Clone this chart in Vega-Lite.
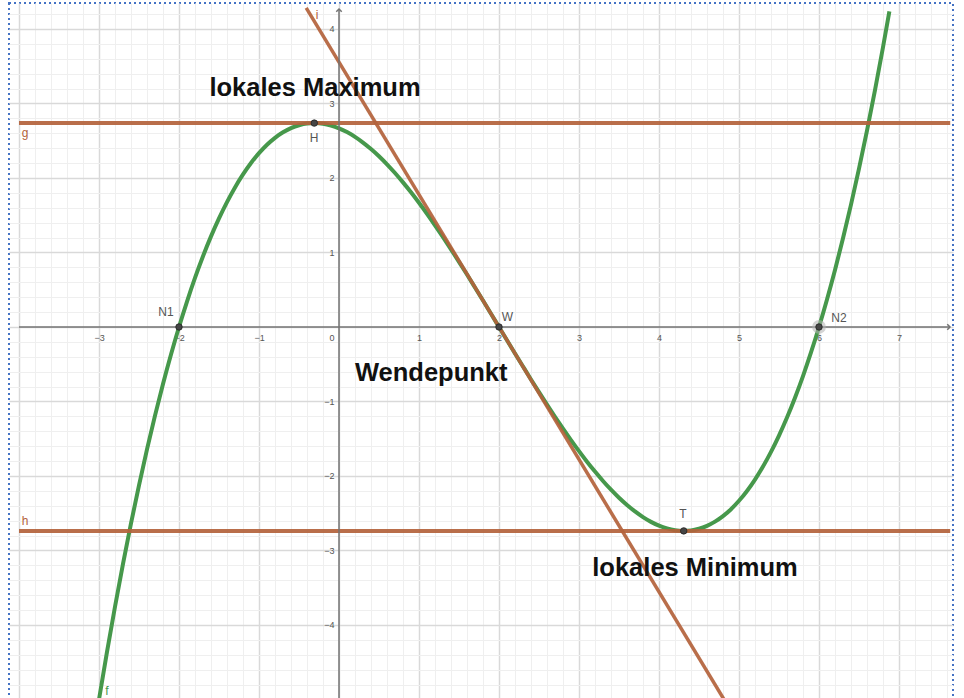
{
  "$schema": "https://vega.github.io/schema/vega-lite/v6.json",
  "width": 944,
  "height": 697,
  "autosize": {"type": "none"},
  "padding": {"left": 9, "top": 3, "right": 11, "bottom": 0},
  "background": "white",
  "view": {"stroke": "#4472c4", "strokeDash": [2, 3], "strokeWidth": 2},
  "config": {"font": "Liberation Sans"},
  "datasets": {
    "curve": [
      {"x": -3.0, "y": -5.0}, {"x": -2.9, "y": -4.361}, {"x": -2.8, "y": -3.755}, {"x": -2.7, "y": -3.180},
      {"x": -2.6, "y": -2.637}, {"x": -2.5, "y": -2.125}, {"x": -2.4, "y": -1.643}, {"x": -2.3, "y": -1.190},
      {"x": -2.2, "y": -0.765}, {"x": -2.1, "y": -0.369}, {"x": -2.0, "y": 0.0}, {"x": -1.9, "y": 0.342},
      {"x": -1.8, "y": 0.659}, {"x": -1.7, "y": 0.950}, {"x": -1.6, "y": 1.216}, {"x": -1.5, "y": 1.458},
      {"x": -1.4, "y": 1.677}, {"x": -1.3, "y": 1.874}, {"x": -1.2, "y": 2.048}, {"x": -1.1, "y": 2.201},
      {"x": -1.0, "y": 2.333}, {"x": -0.9, "y": 2.446}, {"x": -0.8, "y": 2.539}, {"x": -0.7, "y": 2.613},
      {"x": -0.6, "y": 2.669}, {"x": -0.5, "y": 2.708}, {"x": -0.4, "y": 2.731}, {"x": -0.3, "y": 2.737},
      {"x": -0.2, "y": 2.728}, {"x": -0.1, "y": 2.704}, {"x": 0.0, "y": 2.667}, {"x": 0.1, "y": 2.616},
      {"x": 0.2, "y": 2.552}, {"x": 0.3, "y": 2.476}, {"x": 0.4, "y": 2.389}, {"x": 0.5, "y": 2.292},
      {"x": 0.6, "y": 2.184}, {"x": 0.7, "y": 2.067}, {"x": 0.8, "y": 1.941}, {"x": 0.9, "y": 1.808},
      {"x": 1.0, "y": 1.667}, {"x": 1.1, "y": 1.519}, {"x": 1.2, "y": 1.365}, {"x": 1.3, "y": 1.206},
      {"x": 1.4, "y": 1.043}, {"x": 1.5, "y": 0.875}, {"x": 1.6, "y": 0.704}, {"x": 1.7, "y": 0.530},
      {"x": 1.8, "y": 0.355}, {"x": 1.9, "y": 0.178}, {"x": 2.0, "y": 0.0}, {"x": 2.1, "y": -0.178},
      {"x": 2.2, "y": -0.355}, {"x": 2.3, "y": -0.530}, {"x": 2.4, "y": -0.704}, {"x": 2.5, "y": -0.875},
      {"x": 2.6, "y": -1.043}, {"x": 2.7, "y": -1.206}, {"x": 2.8, "y": -1.365}, {"x": 2.9, "y": -1.519},
      {"x": 3.0, "y": -1.667}, {"x": 3.1, "y": -1.808}, {"x": 3.2, "y": -1.941}, {"x": 3.3, "y": -2.067},
      {"x": 3.4, "y": -2.184}, {"x": 3.5, "y": -2.292}, {"x": 3.6, "y": -2.389}, {"x": 3.7, "y": -2.476},
      {"x": 3.8, "y": -2.552}, {"x": 3.9, "y": -2.616}, {"x": 4.0, "y": -2.667}, {"x": 4.1, "y": -2.704},
      {"x": 4.2, "y": -2.728}, {"x": 4.3, "y": -2.737}, {"x": 4.4, "y": -2.731}, {"x": 4.5, "y": -2.708},
      {"x": 4.6, "y": -2.669}, {"x": 4.7, "y": -2.613}, {"x": 4.8, "y": -2.539}, {"x": 4.9, "y": -2.446},
      {"x": 5.0, "y": -2.333}, {"x": 5.1, "y": -2.201}, {"x": 5.2, "y": -2.048}, {"x": 5.3, "y": -1.874},
      {"x": 5.4, "y": -1.677}, {"x": 5.5, "y": -1.458}, {"x": 5.6, "y": -1.216}, {"x": 5.7, "y": -0.950},
      {"x": 5.8, "y": -0.659}, {"x": 5.9, "y": -0.342}, {"x": 6.0, "y": 0.0}, {"x": 6.1, "y": 0.369},
      {"x": 6.2, "y": 0.765}, {"x": 6.3, "y": 1.190}, {"x": 6.4, "y": 1.643}, {"x": 6.5, "y": 2.125},
      {"x": 6.6, "y": 2.637}, {"x": 6.7, "y": 3.180}, {"x": 6.8, "y": 3.755}, {"x": 6.88, "y": 4.237}
    ],
    "hlines": [
      {"name": "g", "x": -4, "x2": 7.64, "y": 2.737},
      {"name": "h", "x": -4, "x2": 7.64, "y": -2.737}
    ],
    "tangent": [
      {"x": -0.41, "y": 4.284},
      {"x": 4.82, "y": -5.013}
    ],
    "axislines": [
      {"x": -4, "x2": 7.6375, "y": 0, "y2": 0},
      {"x": 0, "x2": 0, "y": -5.1, "y2": 4.268}
    ],
    "arrows": [
      {"x": 7.6375, "y": 0, "dir": "right"},
      {"x": 0, "y": 4.268, "dir": "up"}
    ],
    "selected": [
      {"name": "N2", "x": 6, "y": 0}
    ],
    "points": [
      {"name": "H", "x": -0.309, "y": 2.737},
      {"name": "N1", "x": -2, "y": 0},
      {"name": "W", "x": 2, "y": 0},
      {"name": "N2", "x": 6, "y": 0},
      {"name": "T", "x": 4.309, "y": -2.737}
    ],
    "labels": [
      {"text": "H", "kind": "point", "x": -0.3125, "y": 2.537},
      {"text": "N1", "kind": "point", "x": -2.1625, "y": 0.201},
      {"text": "W", "kind": "point", "x": 2.106, "y": 0.134},
      {"text": "N2", "kind": "point", "x": 6.25, "y": 0.121},
      {"text": "T", "kind": "point", "x": 4.3, "y": -2.51},
      {"text": "g", "kind": "line", "x": -3.925, "y": 2.604},
      {"text": "h", "kind": "line", "x": -3.925, "y": -2.604},
      {"text": "i", "kind": "line", "x": -0.275, "y": 4.188},
      {"text": "f", "kind": "curve", "x": -2.9, "y": -4.886}
    ],
    "notes": [
      {"text": "lokales Maximum", "x": -1.62, "y": 3.1},
      {"text": "Wendepunkt", "x": 0.2, "y": -0.725},
      {"text": "lokales Minimum", "x": 3.166, "y": -3.342}
    ]
  },
  "resolve": {"axis": {"x": "independent", "y": "independent"}},
  "layer": [
    {
      "data": {"name": "curve"},
      "mark": {"type": "line", "color": "#46984b", "strokeWidth": 4, "interpolate": "monotone", "clip": true},
      "encoding": {
        "x": {
          "field": "x", "type": "quantitative",
          "scale": {"domain": [-4.125, 7.675], "nice": false, "zero": false},
          "axis": {
            "orient": "bottom", "title": null, "labels": false, "ticks": false, "domain": false, "grid": true,
            "values": [-4, -3.8, -3.6, -3.4, -3.2, -3, -2.8, -2.6, -2.4, -2.2, -2, -1.8, -1.6, -1.4, -1.2, -1, -0.8, -0.6, -0.4, -0.2, 0, 0.2, 0.4, 0.6, 0.8, 1, 1.2, 1.4, 1.6, 1.8, 2, 2.2, 2.4, 2.6, 2.8, 3, 3.2, 3.4, 3.6, 3.8, 4, 4.2, 4.4, 4.6, 4.8, 5, 5.2, 5.4, 5.6, 5.8, 6, 6.2, 6.4, 6.6, 6.8, 7, 7.2, 7.4, 7.6],
            "gridColor": {"condition": {"test": "abs(datum.value - round(datum.value)) < 0.001", "value": "#d9d9d9"}, "value": "#efefef"},
            "gridWidth": {"condition": {"test": "abs(datum.value - round(datum.value)) < 0.001", "value": 1.5}, "value": 1}
          }
        },
        "y": {
          "field": "y", "type": "quantitative",
          "scale": {"domain": [-5.007, 4.349], "nice": false, "zero": false},
          "axis": {
            "orient": "left", "title": null, "labels": false, "ticks": false, "domain": false, "grid": true,
            "values": [-4.8, -4.6, -4.4, -4.2, -4, -3.8, -3.6, -3.4, -3.2, -3, -2.8, -2.6, -2.4, -2.2, -2, -1.8, -1.6, -1.4, -1.2, -1, -0.8, -0.6, -0.4, -0.2, 0, 0.2, 0.4, 0.6, 0.8, 1, 1.2, 1.4, 1.6, 1.8, 2, 2.2, 2.4, 2.6, 2.8, 3, 3.2, 3.4, 3.6, 3.8, 4, 4.2],
            "gridColor": {"condition": {"test": "abs(datum.value - round(datum.value)) < 0.001", "value": "#d9d9d9"}, "value": "#efefef"},
            "gridWidth": {"condition": {"test": "abs(datum.value - round(datum.value)) < 0.001", "value": 1.5}, "value": 1}
          }
        },
        "order": {"field": "x", "type": "quantitative"}
      }
    },
    {
      "data": {"name": "hlines"},
      "mark": {"type": "rule", "color": "#b3623b", "strokeWidth": 4, "opacity": 0.92, "clip": true},
      "encoding": {
        "x": {"field": "x", "type": "quantitative", "scale": {"domain": [-4.125, 7.675], "nice": false, "zero": false}, "axis": null},
        "x2": {"field": "x2"},
        "y": {"field": "y", "type": "quantitative", "scale": {"domain": [-5.007, 4.349], "nice": false, "zero": false}, "axis": null}
      }
    },
    {
      "data": {"name": "tangent"},
      "mark": {"type": "line", "color": "#b3623b", "strokeWidth": 3.5, "opacity": 0.92, "clip": true},
      "encoding": {
        "x": {"field": "x", "type": "quantitative", "scale": {"domain": [-4.125, 7.675], "nice": false, "zero": false}, "axis": null},
        "y": {"field": "y", "type": "quantitative", "scale": {"domain": [-5.007, 4.349], "nice": false, "zero": false}, "axis": null}
      }
    },
    {
      "data": {"name": "axislines"},
      "mark": {"type": "rule", "color": "#737373", "strokeWidth": 1.5, "clip": true},
      "encoding": {
        "x": {
          "field": "x", "type": "quantitative",
          "scale": {"domain": [-4.125, 7.675], "nice": false, "zero": false},
          "axis": {
            "orient": "bottom", "offset": -373, "title": null, "grid": false, "ticks": false, "domain": false,
            "values": [-3, -2, -1, 0, 1, 2, 3, 4, 5, 6, 7],
            "labelFontSize": 9, "labelColor": "#555555", "labelPadding": 6, "labelOverlap": false, "labelFlush": false,
            "labelAlign": {"condition": {"test": "datum.value === 0", "value": "right"}, "value": "center"},
            "labelOffset": {"condition": {"test": "datum.value === 0", "value": -5}, "value": 0}
          }
        },
        "x2": {"field": "x2"},
        "y": {
          "field": "y", "type": "quantitative",
          "scale": {"domain": [-5.007, 4.349], "nice": false, "zero": false},
          "axis": {
            "orient": "left", "offset": -330, "title": null, "grid": false, "ticks": false, "domain": false,
            "values": [-4, -3, -2, -1, 1, 2, 3, 4],
            "labelFontSize": 9, "labelColor": "#555555", "labelPadding": 5, "labelOverlap": false
          }
        },
        "y2": {"field": "y2"}
      }
    },
    {
      "data": {"name": "arrows"},
      "mark": {"type": "point", "filled": false, "color": "#737373", "strokeWidth": 1.5, "size": 30, "opacity": 1},
      "encoding": {
        "x": {"field": "x", "type": "quantitative", "scale": {"domain": [-4.125, 7.675], "nice": false, "zero": false}, "axis": null},
        "y": {"field": "y", "type": "quantitative", "scale": {"domain": [-5.007, 4.349], "nice": false, "zero": false}, "axis": null},
        "shape": {"field": "dir", "type": "nominal", "scale": {"domain": ["right", "up"], "range": ["M-1,-1L0,0L-1,1", "M-1,1L0,0L1,1"]}, "legend": null}
      }
    },
    {
      "data": {"name": "selected"},
      "mark": {"type": "circle", "color": "#b0b0b0", "opacity": 0.55, "size": 190},
      "encoding": {
        "x": {"field": "x", "type": "quantitative", "scale": {"domain": [-4.125, 7.675], "nice": false, "zero": false}, "axis": null},
        "y": {"field": "y", "type": "quantitative", "scale": {"domain": [-5.007, 4.349], "nice": false, "zero": false}, "axis": null}
      }
    },
    {
      "data": {"name": "points"},
      "mark": {"type": "circle", "fill": "#454545", "stroke": "#222222", "strokeWidth": 0.8, "opacity": 1, "size": 42},
      "encoding": {
        "x": {"field": "x", "type": "quantitative", "scale": {"domain": [-4.125, 7.675], "nice": false, "zero": false}, "axis": null},
        "y": {"field": "y", "type": "quantitative", "scale": {"domain": [-5.007, 4.349], "nice": false, "zero": false}, "axis": null}
      }
    },
    {
      "data": {"name": "labels"},
      "mark": {"type": "text", "fontSize": 12, "align": "center", "baseline": "middle", "font": "Liberation Sans"},
      "encoding": {
        "x": {"field": "x", "type": "quantitative", "scale": {"domain": [-4.125, 7.675], "nice": false, "zero": false}, "axis": null},
        "y": {"field": "y", "type": "quantitative", "scale": {"domain": [-5.007, 4.349], "nice": false, "zero": false}, "axis": null},
        "text": {"field": "text"},
        "color": {"field": "kind", "type": "nominal", "scale": {"domain": ["point", "line", "curve"], "range": ["#555555", "#b3623b", "#46984b"]}, "legend": null}
      }
    },
    {
      "data": {"name": "notes"},
      "mark": {"type": "text", "fontSize": 25.5, "fontWeight": "bold", "align": "left", "baseline": "alphabetic", "color": "#111111", "font": "Liberation Sans"},
      "encoding": {
        "x": {"field": "x", "type": "quantitative", "scale": {"domain": [-4.125, 7.675], "nice": false, "zero": false}, "axis": null},
        "y": {"field": "y", "type": "quantitative", "scale": {"domain": [-5.007, 4.349], "nice": false, "zero": false}, "axis": null},
        "text": {"field": "text"}
      }
    }
  ]
}
